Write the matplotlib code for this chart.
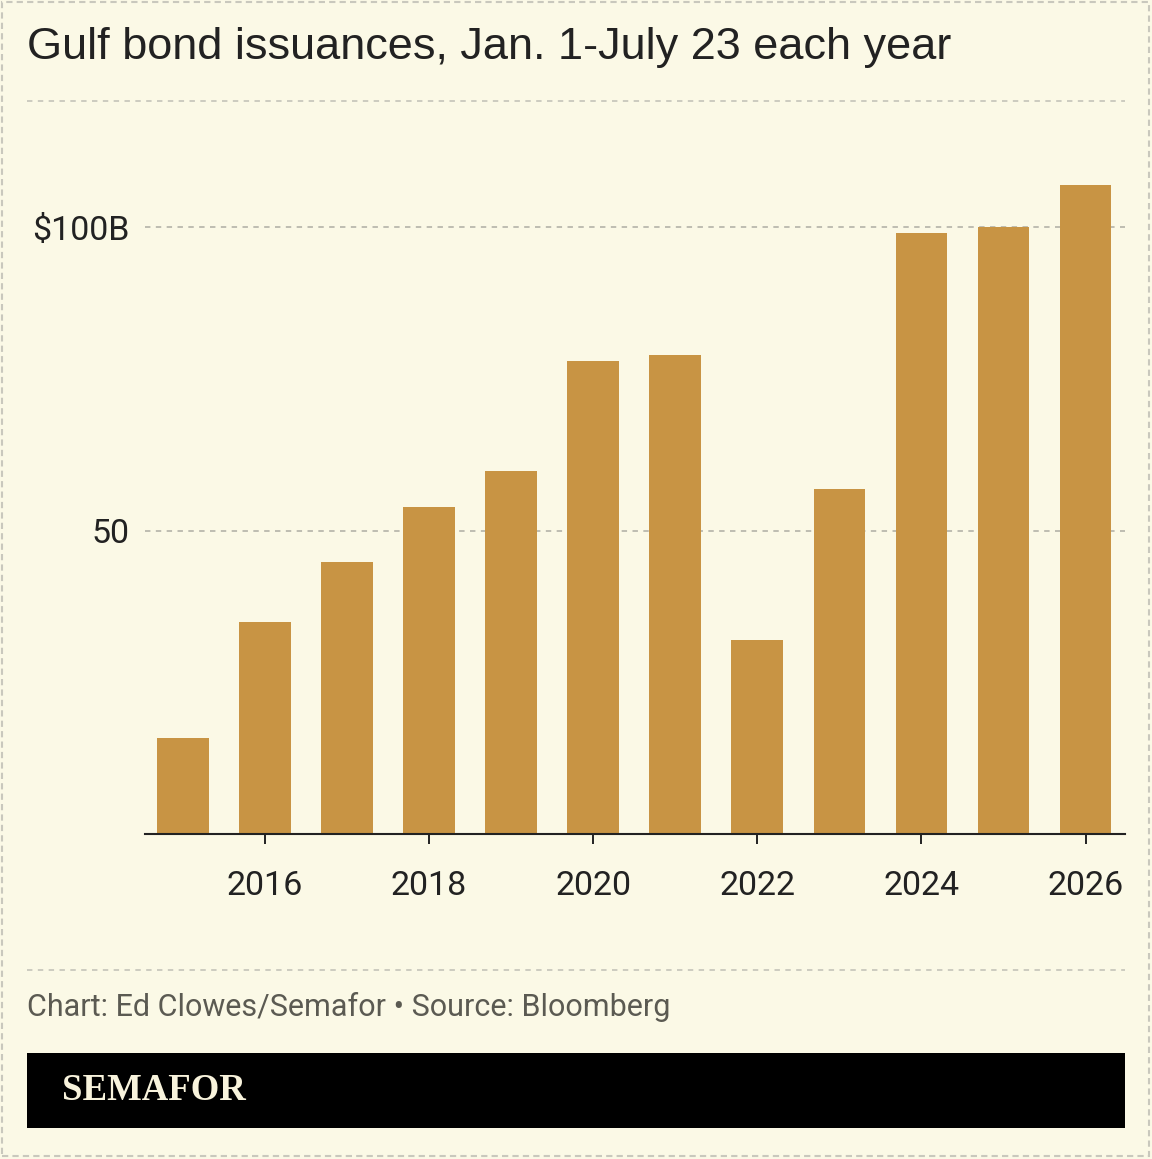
import matplotlib.pyplot as plt
from matplotlib.lines import Line2D
from matplotlib.patches import Rectangle

years = [2015, 2016, 2017, 2018, 2019, 2020, 2021, 2022, 2023, 2024, 2025, 2026]
issuance = [15.8, 34.9, 44.8, 53.9, 59.8, 77.9, 78.9, 32.0, 56.8, 99.0, 100.0, 106.9]
ytick_vals = [50, 100]
ytick_labels = ["50", "$100B"]
xtick_vals = [2016, 2018, 2020, 2022, 2024, 2026]

bg = "#fbf9e6"
bar_color = "#c89444"
grid_color = "#b9b8ad"
ink = "#222222"

W, H = 1152, 1159
fig = plt.figure(figsize=(W / 100, H / 100), dpi=100, facecolor=bg)

def fx(px):
    return px / W

def fy(py):
    return 1 - py / H

ax = fig.add_axes([fx(145), fy(834), fx(1125) - fx(145), fy(130) - fy(834)])
ax.set_facecolor(bg)
ax.bar(years, issuance, width=0.63, color=bar_color, zorder=2)
ax.set_xlim(2014.54, 2026.48)
ax.set_ylim(0, 116)

for v in ytick_vals:
    ax.axhline(v, color=grid_color, lw=1.3, ls=(0, (3, 3)), zorder=1)

ax.set_yticks(ytick_vals)
ax.set_yticklabels(ytick_labels)
ax.set_xticks(xtick_vals)
ax.set_xticklabels([str(x) for x in xtick_vals])
ax.tick_params(axis="y", length=0, pad=11, labelsize=24.5, labelcolor=ink)
ax.tick_params(axis="x", length=7, width=1.4, color=ink, pad=19,
               labelsize=24.5, labelcolor=ink)
for lab in ax.get_xticklabels() + ax.get_yticklabels():
    lab.set_fontfamily("Roboto")

for s in ["top", "right", "left"]:
    ax.spines[s].set_visible(False)
ax.spines["bottom"].set_color(ink)
ax.spines["bottom"].set_linewidth(1.5)
ax.spines["bottom"].set_zorder(3)

# title
fig.text(fx(27), fy(48), "Gulf bond issuances, Jan. 1-July 23 each year",
         fontsize=32.5, family="Liberation Sans", color=ink, va="center", ha="left")

# separators
for py in [101, 970]:
    fig.add_artist(Line2D([fx(27), fx(1125)], [fy(py), fy(py)], color="#c9c8bd",
                          lw=1.3, ls=(0, (3, 3))))

# footer
fig.text(fx(27), fy(1007), "Chart: Ed Clowes/Semafor \u2022 Source: Bloomberg",
         fontsize=22, family="Roboto", color="#5b5a52", va="center", ha="left")

fig.add_artist(Rectangle((fx(27), fy(1128)), fx(1125) - fx(27), fy(1053) - fy(1128),
                         facecolor="black", edgecolor="none"))
fig.text(fx(62), fy(1091), "SEMAFOR", fontsize=26.5, family="Liberation Serif",
         fontweight="bold", color="#f8f3dc", va="center", ha="left")

# outer dashed border
fig.add_artist(Rectangle((fx(2), fy(1156)), fx(1149) - fx(2), fy(2) - fy(1156),
                         facecolor="none", edgecolor="#c9c8bd", lw=1.5,
                         ls=(0, (3, 2))))

fig.savefig("out.png", dpi=100, facecolor=bg)
